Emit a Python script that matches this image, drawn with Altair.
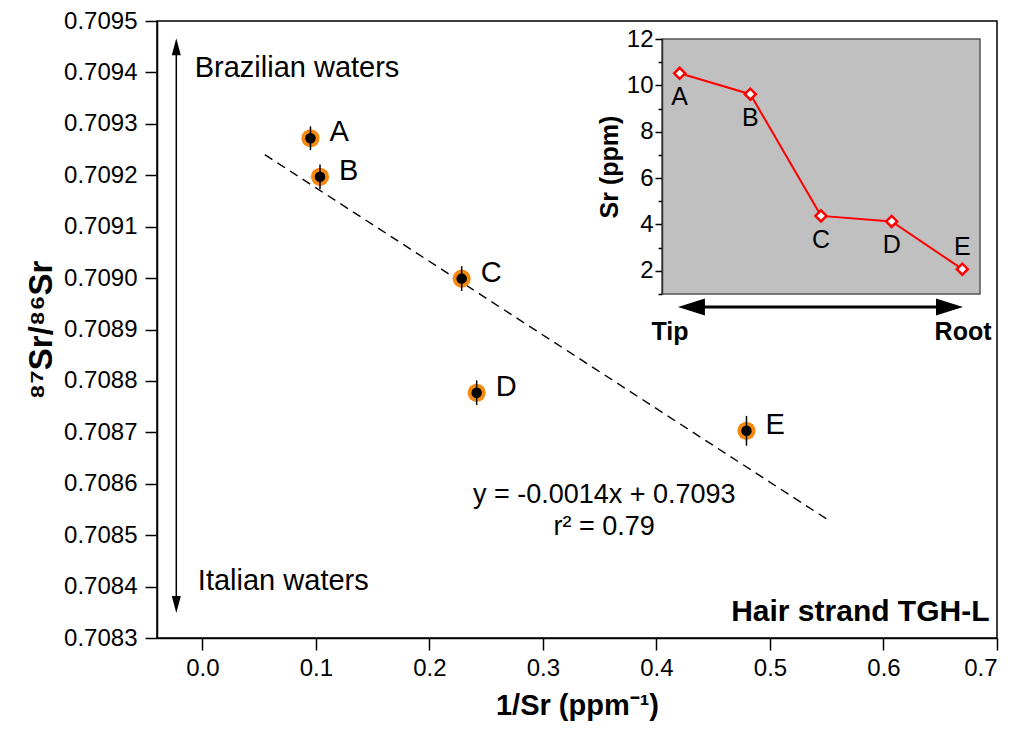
import altair as alt
import pandas as pd

FONT = "Liberation Sans"

# ---- main panel data ----
labels = ["A", "B", "C", "D", "E"]
inv_sr = [0.0952, 0.1036, 0.2284, 0.2416, 0.4793]
sr_ratio = [0.709272, 0.709197, 0.708999, 0.708777, 0.708703]
sr_err = [0.000023, 0.000024, 0.000024, 0.000024, 0.000029]

# regression line end points (as drawn)
fit_x = [0.055, 0.551]
fit_y = [0.70924, 0.70853]

# ---- inset data ----
sr_ppm = [10.52, 9.62, 4.37, 4.13, 2.07]

# ---- ticks ----
x_ticks = [0.0, 0.1, 0.2, 0.3, 0.4, 0.5, 0.6, 0.7]
y_ticks = [0.7083, 0.7084, 0.7085, 0.7086, 0.7087, 0.7088, 0.7089,
           0.7090, 0.7091, 0.7092, 0.7093, 0.7094, 0.7095]
inset_ticks = [1, 2, 3, 4, 5, 6, 7, 8, 9, 10, 11, 12]

# ---- annotations ----
arrow_x = [-0.023]
arrow_top = [0.70945]
arrow_bottom = [0.708365]
water_text = ["Brazilian waters", "Italian waters"]
water_x = [-0.0068, -0.004]
water_y = [0.709409, 0.708410]
eq_text = ["y = -0.0014x + 0.7093", "r\u00b2 = 0.79"]
eq_x = [0.354, 0.354]
eq_y = [0.708578, 0.708516]
strand_text = ["Hair strand TGH-L"]
strand_x = [0.6934]
strand_y = [0.70835]

inset_x_domain = [0.75, 5.25]
inset_y_domain = [1, 12]
inset_arrow_x = [1.167, 4.818]
inset_arrow_y = [0.44]
tiproot_text = ["Tip", "Root"]
tiproot_x = [0.863, 5.01]
tiproot_y = [-0.98, -0.98]

# ---- scales / axes ----
xs = alt.Scale(domain=[-0.04, 0.7], nice=False, zero=False)
ys = alt.Scale(domain=[0.7083, 0.7095], nice=False, zero=False)

x_axis = alt.Axis(values=x_ticks, format=".1f", title="1/Sr (ppm\u207b\u00b9)",
                  tickSize=12, labelPadding=6, titlePadding=11,
                  labelFontSize=24, titleFontSize=29, titleFontWeight="bold")
y_axis = alt.Axis(values=y_ticks, format=".4f", title="\u2078\u2077Sr/\u2078\u2076Sr",
                  tickSize=12, labelPadding=8, titlePadding=5,
                  labelFontSize=24, titleFontSize=33, titleFontWeight="bold")


def X(field):
    return alt.X(f"{field}:Q", scale=xs, axis=x_axis)


def Y(field):
    return alt.Y(f"{field}:Q", scale=ys, axis=y_axis)


main_df = pd.DataFrame({"label": labels, "x": inv_sr, "y": sr_ratio, "err": sr_err})
base = alt.Chart(main_df)

orange = base.mark_circle(size=330, color="#f5890f", opacity=1).encode(x=X("x"), y=Y("y"))
black = base.mark_circle(size=110, color="black", opacity=1).encode(x=X("x"), y=Y("y"))
errbars = base.transform_calculate(
    lo="datum.y - datum.err", hi="datum.y + datum.err"
).mark_rule(color="black", strokeWidth=1.5).encode(
    x=X("x"), y=Y("lo"), y2="hi:Q")
point_labels = base.mark_text(
    align="left", baseline="middle", dx=19, dy=-6, fontSize=29, font=FONT, color="black"
).encode(x=X("x"), y=Y("y"), text="label:N")

fit_df = pd.DataFrame({"x": fit_x, "y": fit_y})
fit_line = alt.Chart(fit_df).mark_line(
    color="black", strokeWidth=1.4, strokeDash=[9, 6]
).encode(x=X("x"), y=Y("y"))

arr_df = pd.DataFrame({"x": arrow_x, "y": arrow_top, "y2": arrow_bottom})
arrow_rule = alt.Chart(arr_df).mark_rule(color="black", strokeWidth=1.5).encode(
    x=X("x"), y=Y("y"), y2="y2:Q")
arrow_up = alt.Chart(arr_df).mark_point(
    shape="M0,-1L0.53,1L-0.53,1Z", size=289, filled=True, color="black", opacity=1
).encode(x=X("x"), y=Y("y"))
arrow_down = alt.Chart(arr_df).mark_point(
    shape="M0,1L0.53,-1L-0.53,-1Z", size=289, filled=True, color="black", opacity=1
).encode(x=X("x"), y=Y("y2"))

water_df = pd.DataFrame({"x": water_x, "y": water_y, "t": water_text})
water = alt.Chart(water_df).mark_text(
    align="left", baseline="middle", fontSize=29, font=FONT, color="black"
).encode(x=X("x"), y=Y("y"), text="t:N")

eq_df = pd.DataFrame({"x": eq_x, "y": eq_y, "t": eq_text})
eq = alt.Chart(eq_df).mark_text(
    align="center", baseline="middle", fontSize=27, font=FONT, color="black"
).encode(x=X("x"), y=Y("y"), text="t:N")

strand_df = pd.DataFrame({"x": strand_x, "y": strand_y, "t": strand_text})
strand = alt.Chart(strand_df).mark_text(
    align="right", baseline="middle", fontSize=30, fontWeight="bold", font=FONT, color="black"
).encode(x=X("x"), y=Y("y"), text="t:N")

main = alt.layer(fit_line, arrow_rule, arrow_up, arrow_down, orange, black, errbars,
                 point_labels, water, eq, strand)

# ---- inset ----
ixs = alt.Scale(domain=inset_x_domain, range=[505, 823], nice=False, zero=False)
iys = alt.Scale(domain=inset_y_domain, range=[273, 18], nice=False, zero=False)
iy_axis = alt.Axis(
    orient="left", offset=-505, values=inset_ticks,
    labelExpr="datum.value % 2 === 0 ? datum.label : ''",
    tickSize={"condition": {"test": "datum.value % 2 === 0", "value": 7}, "value": 4},
    labelFontSize=24, labelPadding=2, title="Sr (ppm)", titleFontSize=25,
    titleFontWeight="bold", titlePadding=4, domainColor="#333333", zindex=2,
)


def IX(field):
    return alt.X(f"{field}:Q", scale=ixs, axis=None)


def IY(field):
    return alt.Y(f"{field}:Q", scale=iys, axis=iy_axis)


bg_df = pd.DataFrame({"ix": [inset_x_domain[0]], "ix2": [inset_x_domain[1]],
                      "iy": [inset_y_domain[0]], "iy2": [inset_y_domain[1]]})
bg = alt.Chart(bg_df).mark_rect(fill="#c0c0c0", stroke="#555555", strokeWidth=1.5).encode(
    x=IX("ix"), x2="ix2:Q", y=IY("iy"), y2="iy2:Q")

in_df = pd.DataFrame({"label": labels, "sr": sr_ppm})
ib = alt.Chart(in_df).transform_window(ix="row_number()")
iline = ib.mark_line(color="#ff0000", strokeWidth=2).encode(x=IX("ix"), y=IY("sr"))
ipts = ib.mark_point(shape="diamond", size=121, filled=True, fill="white",
                     stroke="#ff0000", strokeWidth=2.5, opacity=1).encode(
    x=IX("ix"), y=IY("sr"))
ilab_below = ib.transform_filter("datum.label !== 'E'").mark_text(
    baseline="middle", dy=24, fontSize=25, font=FONT, color="black"
).encode(x=IX("ix"), y=IY("sr"), text="label:N")
ilab_above = ib.transform_filter("datum.label === 'E'").mark_text(
    baseline="middle", dy=-22, fontSize=25, font=FONT, color="black"
).encode(x=IX("ix"), y=IY("sr"), text="label:N")

ia_df = pd.DataFrame({"ix": [inset_arrow_x[0]], "ix2": [inset_arrow_x[1]],
                      "iy": inset_arrow_y})
ia_rule = alt.Chart(ia_df).mark_rule(color="black", strokeWidth=3).encode(
    x=IX("ix"), x2="ix2:Q", y=IY("iy"))
ia_left = alt.Chart(ia_df).mark_point(
    shape="M-1,0L1,-0.63L1,0.63Z", size=729, filled=True, color="black", opacity=1
).encode(x=IX("ix"), y=IY("iy"))
ia_right = alt.Chart(ia_df).mark_point(
    shape="M1,0L-1,-0.63L-1,0.63Z", size=729, filled=True, color="black", opacity=1
).encode(x=IX("ix2"), y=IY("iy"))

tr_df = pd.DataFrame({"ix": tiproot_x, "iy": tiproot_y, "t": tiproot_text})
tiproot = alt.Chart(tr_df).mark_text(
    align="center", baseline="alphabetic", fontSize=25, fontWeight="bold",
    font=FONT, color="black"
).encode(x=IX("ix"), y=IY("iy"), text="t:N")

inset = alt.layer(bg, iline, ipts, ilab_below, ilab_above, ia_rule, ia_left, ia_right, tiproot)

chart = alt.layer(main, inset).resolve_scale(
    x="independent", y="independent"
).properties(
    width=840, height=617,
    autosize=alt.AutoSizeParams(type="none"),
    padding={"left": 149, "top": 13, "right": 11, "bottom": 94},
).configure(font=FONT).configure_view(
    stroke="black", strokeWidth=1.5
).configure_axis(
    grid=False, domainColor="black", tickColor="black", labelColor="black",
    titleColor="black", domainWidth=1.5, tickWidth=1.5, labelFont=FONT, titleFont=FONT,
)

chart.save("out.html", embed_options={"renderer": "svg", "actions": False})
